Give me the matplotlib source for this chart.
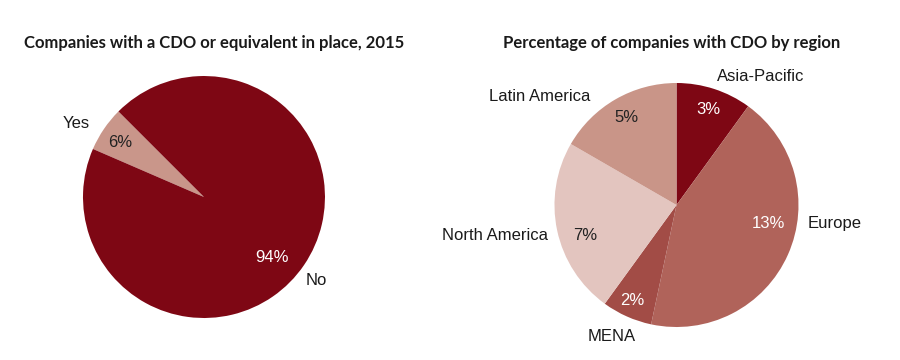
import matplotlib.pyplot as plt

# left chart: CDO in place
cdo_labels = ["Yes", "No"]
cdo_values = [6, 94]
cdo_colors = ["#c9968a", "#7e0714"]

# right chart: share of companies with CDO, by region
region_labels = ["Asia-Pacific", "Europe", "MENA", "North America", "Latin America"]
region_values = [3, 13, 2, 7, 5]
region_colors = ["#7e0714", "#b0635a", "#a24c46", "#e3c5bf", "#c99588"]
region_pct_colors = ["white", "white", "white", "#222222", "#222222"]

fig = plt.figure(figsize=(9, 3.6), dpi=100)
fig.patch.set_facecolor("white")

label_font = dict(family="Liberation Sans", fontsize=12, color="#1a1a1a")
title_font = dict(family="Lato", fontsize=12, fontweight="bold", color="#1a1a1a")

# ---- left pie
ax1 = fig.add_axes([0.025, -0.0514, 0.4033, 1.0083])
ax1.pie(cdo_values, colors=cdo_colors, startangle=135, counterclock=True,
        wedgeprops=dict(linewidth=0))
ax1.set_xlim(-1.5, 1.5)
ax1.set_ylim(-1.5, 1.5)
ax1.set_aspect("equal")
ax1.axis("off")

# label / pct spots relative to pie center (radius 1)
cdo_label_pos = [(-1.06, 0.61), (0.93, -0.69)]
cdo_pct_pos = [(-0.69, 0.45), (0.56, -0.50)]
cdo_pct_colors = ["#222222", "white"]
for lab, v, (lx, ly), (px, py), pc in zip(cdo_labels, cdo_values, cdo_label_pos,
                                          cdo_pct_pos, cdo_pct_colors):
    ax1.text(lx, ly, lab, ha="center", va="center", **label_font)
    ax1.text(px, py, f"{v}%", ha="center", va="center",
             family="Liberation Sans", fontsize=12, color=pc)

# ---- right pie
ax2 = fig.add_axes([0.5483, -0.0778, 0.4067, 1.0167])
ax2.pie(region_values, colors=region_colors, startangle=90, counterclock=False,
        wedgeprops=dict(linewidth=0))
ax2.set_xlim(-1.5, 1.5)
ax2.set_ylim(-1.5, 1.5)
ax2.set_aspect("equal")
ax2.axis("off")

region_label_pos = [(0.69, 1.05), (1.30, -0.15), (-0.53, -1.08), (-1.49, -0.25), (-1.12, 0.89)]
region_pct_pos = [(0.26, 0.78), (0.75, -0.15), (-0.36, -0.78), (-0.75, -0.25), (-0.41, 0.72)]
for lab, v, (lx, ly), (px, py), pc in zip(region_labels, region_values, region_label_pos,
                                          region_pct_pos, region_pct_colors):
    ax2.text(lx, ly, lab, ha="center", va="center", **label_font)
    ax2.text(px, py, f"{v}%", ha="center", va="center",
             family="Liberation Sans", fontsize=12, color=pc)

fig.text(214 / 900, 1 - 43 / 360, "Companies with a CDO or equivalent in place, 2015",
         ha="center", va="center", **title_font)
fig.text(671.5 / 900, 1 - 43 / 360, "Percentage of companies with CDO by region",
         ha="center", va="center", **title_font)

fig.savefig("out.png", dpi=100, facecolor="white")
